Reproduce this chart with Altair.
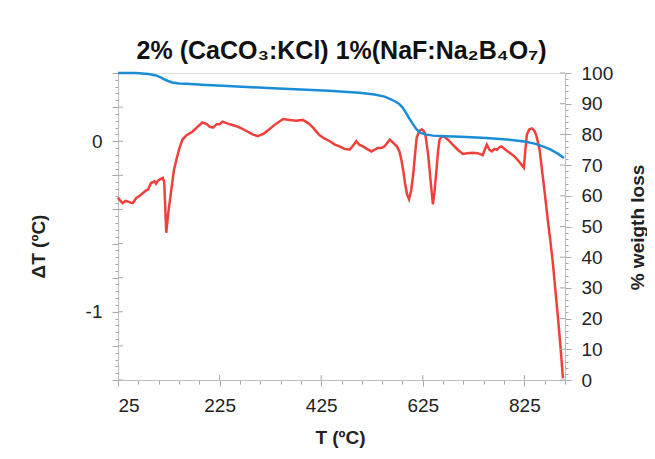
import altair as alt
import pandas as pd

# DTA curve (red)
dta_T = [25, 28, 34, 40, 44, 50, 54, 61, 68, 74, 80, 84, 90, 97, 100, 104, 107, 113, 116, 120,
         124, 130, 135, 140, 146, 152, 160, 172, 180, 191, 200, 205, 212, 219, 225, 231, 240, 250,
         258, 268, 278, 290, 300, 312, 323, 335, 350, 363, 376, 389, 400, 409, 416, 422, 432, 442,
         452, 461, 471, 481, 488, 494, 500, 507, 515, 524, 530, 536, 543, 550, 555, 560, 567, 574,
         579, 583, 587, 590, 594, 598, 602, 606, 610, 613, 618, 623, 627, 630, 633, 636, 640, 645,
         648, 652, 655, 658, 663, 668, 676, 684, 694, 704, 713, 723, 733, 743, 747, 751, 756, 761,
         766, 771, 776, 780, 788, 796, 806, 816, 820, 824, 827, 830, 835, 840, 845, 849, 855, 861,
         865, 871, 876, 881, 886, 891, 896, 901]
dta_dT = [-0.33, -0.343, -0.363, -0.35, -0.353, -0.36, -0.363, -0.333, -0.32, -0.304, -0.29,
          -0.284, -0.245, -0.235, -0.249, -0.23, -0.225, -0.215, -0.24, -0.537, -0.42, -0.284,
          -0.17, -0.108, -0.04, 0.01, 0.035, 0.057, 0.08, 0.11, 0.10, 0.085, 0.08, 0.1, 0.10, 0.115,
          0.105, 0.095, 0.088, 0.075, 0.06, 0.04, 0.03, 0.045, 0.07, 0.10, 0.13, 0.125, 0.12, 0.125,
          0.105, 0.08, 0.055, 0.035, 0.015, 0.0, -0.02, -0.03, -0.045, -0.05, -0.025, 0.0, -0.02,
          -0.03, -0.045, -0.06, -0.05, -0.04, -0.04, -0.03, -0.01, 0.01, -0.01, -0.03, -0.06,
          -0.11, -0.18, -0.245, -0.31, -0.34, -0.29, -0.2, -0.07, 0.02, 0.06, 0.07, 0.06, 0.04,
          -0.02, -0.09, -0.22, -0.37, -0.3, -0.17, -0.06, 0.01, 0.03, 0.025, 0.005, -0.02, -0.05,
          -0.075, -0.07, -0.068, -0.07, -0.082, -0.05, -0.02, -0.05, -0.06, -0.045, -0.05, -0.035,
          -0.03, -0.05, -0.068, -0.09, -0.125, -0.14, -0.155, -0.05, 0.04, 0.07, 0.075, 0.06, 0.03,
          -0.05, -0.2, -0.3, -0.46, -0.58, -0.71, -0.87, -1.03, -1.2, -1.39]

# TGA curve (blue)
tga_T = [25, 60, 85, 100, 110, 118, 125, 132, 145, 160, 190, 250, 330, 440, 500, 530, 550, 560,
         570, 578, 585, 592, 598, 605, 612, 620, 630, 645, 670, 700, 750, 800, 825, 845, 860, 875,
         890, 903]
tga_w = [100, 100, 99.7, 99.2, 98.5, 97.8, 97.3, 96.9, 96.6, 96.5, 96.2, 95.7, 95.0, 94.2, 93.6,
         93.0, 92.3, 91.6, 90.8, 90.0, 88.8, 87.0, 85.3, 83.5, 81.8, 80.6, 80.0, 79.6, 79.4, 79.2,
         78.8, 78.2, 77.7, 77.0, 76.2, 75.2, 73.8, 72.3]

# axis tick values
x_ticks = list(range(25, 906, 40))
x_major = [225, 425, 625, 825]
left_ticks = [round(-1.4 + 0.04 * i, 2) for i in range(46)]
left_major = [round(-1.4 + 0.2 * i, 1) for i in range(10)]
right_ticks = list(range(0, 101, 2))
right_major = list(range(0, 101, 10))

df_dta = pd.DataFrame({"T": dta_T, "dT": dta_dT})
df_tga = pd.DataFrame({"T": tga_T, "w": tga_w})
df_xm = pd.DataFrame({"T": x_major})
df_lm = pd.DataFrame({"dT": left_major})
df_rm = pd.DataFrame({"w": right_major})

FONT = "Liberation Sans"
AX = "#bcbcbc"
TK = "#a8a8a8"
LAB = "#222222"
W, H = 447, 307
INNER = 5

x_scale = alt.Scale(domain=[25, 905], nice=False, zero=False)
yl_scale = alt.Scale(domain=[-1.4, 0.4], nice=False, zero=False)
yr_scale = alt.Scale(domain=[0, 100], nice=False)

x_axis = alt.Axis(
    values=x_ticks,
    labelExpr="(datum.value - 25) % 200 === 0 ? datum.label : ''",
    tickSize={"condition": {"test": "(datum.value - 25) % 200 === 0", "value": 6}, "value": 4},
    tickColor=TK, domainColor=AX, grid=False,
    labelFont=FONT, labelFontSize=19, labelColor=LAB, labelPadding=10,
    title="T (ºC)", titleFont=FONT, titleFontSize=19, titleFontWeight="bold", titleColor=LAB,
    titleX=222, titleY=57, titleAlign="center", titleBaseline="middle",
)
yl_axis = alt.Axis(
    values=left_ticks,
    labelExpr="abs(datum.value) < 0.001 ? '0' : (abs(datum.value + 1) < 0.001 ? '-1' : '')",
    tickSize={"condition": {"test": "abs(datum.value * 5 - round(datum.value * 5)) < 0.001", "value": 6}, "value": 3},
    tickColor=TK, domainColor=AX, grid=False,
    labelFont=FONT, labelFontSize=19, labelColor=LAB, labelPadding=10,
    title="ΔT (ºC)", titleFont=FONT, titleFontSize=19, titleFontWeight="bold", titleColor=LAB,
    titleX=-80, titleY=173, titleAngle=270, titleAlign="center", titleBaseline="middle",
)
yr_axis = alt.Axis(
    orient="right",
    values=right_ticks,
    labelExpr="datum.value % 10 === 0 ? datum.label : ''",
    tickSize={"condition": {"test": "datum.value % 10 === 0", "value": 6}, "value": 3},
    tickColor=TK, domainColor=AX, grid=False,
    labelFont=FONT, labelFontSize=19, labelColor=LAB, labelPadding=10,
    title="% weigth loss", titleFont=FONT, titleFontSize=19, titleFontWeight="bold", titleColor=LAB,
    titleX=72, titleY=154, titleAngle=270, titleAlign="center", titleBaseline="middle",
)

dta = alt.Chart(df_dta).mark_line(color="#f0403c", strokeWidth=2.5).encode(
    x=alt.X("T:Q", scale=x_scale, axis=x_axis),
    y=alt.Y("dT:Q", scale=yl_scale, axis=yl_axis),
)

# inward halves of the major ticks (they cross the axis lines)
lm_ticks = alt.Chart(df_lm).mark_rule(color=TK, strokeWidth=1).encode(
    y=alt.Y("dT:Q", scale=yl_scale, axis=yl_axis),
    x=alt.value(0), x2=alt.value(INNER),
)
xm_ticks = alt.Chart(df_xm).mark_rule(color=TK, strokeWidth=1).encode(
    x=alt.X("T:Q", scale=x_scale, axis=x_axis),
    y=alt.value(H - INNER), y2=alt.value(H),
)

tga = alt.Chart(df_tga).mark_line(color="#1a8dd6", strokeWidth=2.5).encode(
    x=alt.X("T:Q", scale=x_scale, axis=x_axis),
    y=alt.Y("w:Q", scale=yr_scale, axis=yr_axis),
)
rm_ticks = alt.Chart(df_rm).mark_rule(color=TK, strokeWidth=1).encode(
    y=alt.Y("w:Q", scale=yr_scale, axis=yr_axis),
    x=alt.value(W - INNER), x2=alt.value(W),
)

left_layer = alt.layer(dta, lm_ticks, xm_ticks)
right_layer = alt.layer(tga, rm_ticks)

chart = (
    alt.layer(left_layer, right_layer)
    .resolve_scale(y="independent")
    .properties(
        width=W,
        height=H,
        autosize=alt.AutoSizeParams(type="none"),
        padding={"left": 110, "top": 65, "right": 82, "bottom": 71},
        title=alt.Title(
            text="2% (CaCO₃:KCl) 1%(NaF:Na₂B₄O₇)",
            font=FONT, fontSize=25, fontWeight="bold", color="#111111",
            anchor="middle", offset=0,
        ),
    )
    .configure_view(strokeWidth=0)
    .configure(background="white")
)

chart.save("out.html", embed_options={"renderer": "svg", "actions": False})
